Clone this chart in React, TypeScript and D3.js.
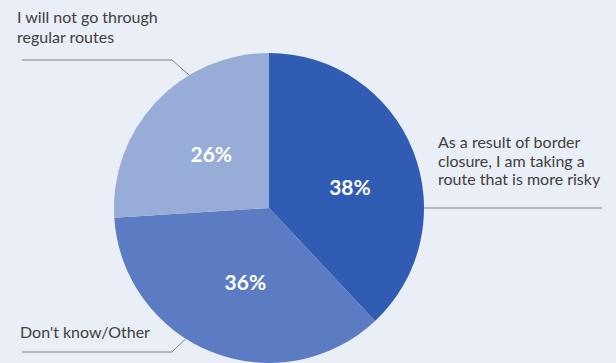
import React from "react";
import * as d3 from "d3";

const categories = [
  "As a result of border closure, I am taking a route that is more risky",
  "Don't know/Other",
  "I will not go through regular routes",
];
const values = [38, 36, 26];
const colors = ["#315cb3", "#5b7bc3", "#98acd8"];
const labelLines = [
  ["As a result of border", "closure, I am taking a", "route that is more risky"],
  ["Don't know/Other"],
  ["I will not go through", "regular routes"],
];

const W = 616;
const H = 363;
const cx = 269;
const cy = 208;
const R = 155;

// value label nudges relative to the arc centroid
const valueNudge: [number, number][] = [
  [6, 9],
  [6, 0],
  [1, 2],
];

// leader layout: angle on pie edge (deg, clockwise from top), elbow point, line end x, text pos
const leaders = [
  { angle: 90, elbow: null as null | [number, number], endX: 602, tx: 438, ty: 148, lh: 18.7 },
  { angle: 212.5, elbow: [172, 352] as [number, number], endX: 22, tx: 20, ty: 338, lh: 20 },
  { angle: 329, elbow: [172, 60] as [number, number], endX: 22, tx: 17, ty: 23, lh: 20 },
];

export default function App() {
  const pie = d3.pie<number>().sort(null).value((d) => d);
  const arcs = pie(values);
  const arc = d3.arc<d3.PieArcDatum<number>>().innerRadius(0).outerRadius(R);
  const labelArc = d3.arc<d3.PieArcDatum<number>>().innerRadius(R * 0.52).outerRadius(R * 0.52);
  const font = "Lato, 'Open Sans', sans-serif";

  return (
    <svg width={W} height={H} style={{ position: "absolute", left: 0, top: 0, background: "#eaeef7" }}>
      <rect width={W} height={H} fill="#eaeef7" />
      <g transform={`translate(${cx},${cy})`}>
        {arcs.map((a, i) => (
          <path key={i} d={arc(a) || ""} fill={colors[i]} />
        ))}
        {arcs.map((a, i) => {
          const [x, y] = labelArc.centroid(a);
          return (
            <text
              key={"l" + i}
              x={x + valueNudge[i][0]}
              y={y + valueNudge[i][1]}
              dy="0.36em"
              textAnchor="middle"
              fill="#ffffff"
              fontFamily={font}
              fontWeight={700}
              fontSize={21}
            >
              {values[i]}%
            </text>
          );
        })}
      </g>
      {leaders.map((l, i) => {
        const [px, py] = d3.pointRadial((l.angle * Math.PI) / 180, R);
        const sx = cx + px;
        const sy = cy + py;
        const pts: [number, number][] = l.elbow
          ? [[sx, sy], l.elbow, [l.endX, l.elbow[1]]]
          : [[sx, sy], [l.endX, sy]];
        return (
          <g key={"ld" + i}>
            <path d={d3.line()(pts) || ""} fill="none" stroke="#7f7f7f" strokeWidth={1} />
            <text x={l.tx} y={l.ty} fill="#404040" fontFamily={font} fontSize={16}>
              {labelLines[i].map((ln, j) => (
                <tspan key={j} x={l.tx} dy={j === 0 ? 0 : l.lh}>
                  {ln}
                </tspan>
              ))}
            </text>
          </g>
        );
      })}
    </svg>
  );
}
